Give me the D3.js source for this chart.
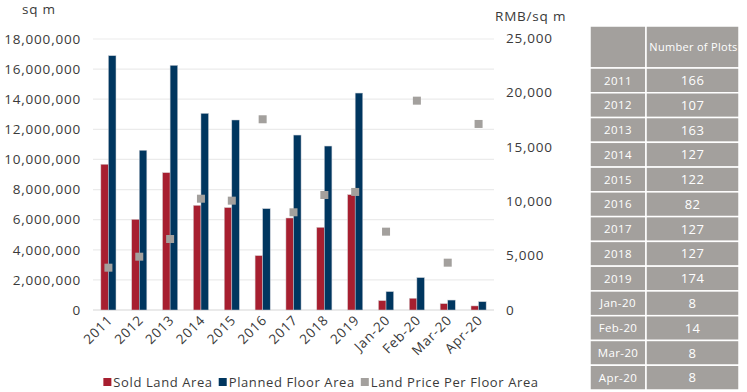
<!DOCTYPE html>
<html>
<head>
<meta charset="utf-8">
<script src="https://cdn.jsdelivr.net/npm/d3@7"></script>
<style>
  body { margin: 0; background: #fff; }
  svg text { font-family: "Open Sans", sans-serif; fill: #3a3a3a; letter-spacing: 0.8px; }
</style>
</head>
<body>
<svg id="chart" width="747" height="392"></svg>
<script>
// data
var categories = ["2011","2012","2013","2014","2015","2016","2017","2018","2019","Jan-20","Feb-20","Mar-20","Apr-20"];
var soldLand = [9680000, 6020000, 9120000, 6950000, 6800000, 3610000, 6110000, 5490000, 7660000, 620000, 780000, 420000, 270000];
var plannedFloor = [16890000, 10610000, 16250000, 13060000, 12620000, 6730000, 11620000, 10890000, 14410000, 1220000, 2150000, 660000, 550000];
var landPrice = [3890, 4900, 6525, 10230, 10050, 17530, 8980, 10570, 10850, 7200, 19240, 4350, 17100];
var plots = [166, 107, 163, 127, 122, 82, 127, 127, 174, 8, 14, 8, 8];
var leftTicks = [0, 2000000, 4000000, 6000000, 8000000, 10000000, 12000000, 14000000, 16000000, 18000000];
var rightTicks = [0, 5000, 10000, 15000, 20000, 25000];
var seriesNames = ["Sold Land Area", "Planned Floor Area", "Land Price Per Floor Area"];

var red = "#a71f30", blue = "#00365f", grey = "#a3a09d";

var svg = d3.select("#chart");
var fmt = d3.format(",");

var x = d3.scaleBand().domain(categories).range([93, 494]).paddingInner(0.51).paddingOuter(0.255);
var xSub = d3.scaleBand().domain(["sold", "planned"]).range([0, x.bandwidth()]);
var yL = d3.scaleLinear().domain([0, 18000000]).range([310, 39]);
var yR = d3.scaleLinear().domain([0, 25000]).range([310, 38]);

// gridlines
svg.append("g").selectAll("line").data(leftTicks).enter().append("line")
  .attr("x1", 93).attr("x2", 494)
  .attr("y1", function(d) { return yL(d); }).attr("y2", function(d) { return yL(d); })
  .attr("stroke", function(d) { return d === 0 ? "#d6d6d6" : "#ebebeb"; })
  .attr("stroke-width", 1.2);

// left axis
var gl = svg.append("g").attr("transform", "translate(89,0)")
  .call(d3.axisLeft(yL).tickValues(leftTicks).tickFormat(fmt).tickSize(0).tickPadding(8));
gl.select(".domain").remove();
gl.selectAll("text").style("font-size", "13.5px");

// right axis
var gr = svg.append("g").attr("transform", "translate(498,0)")
  .call(d3.axisRight(yR).tickValues(rightTicks).tickFormat(fmt).tickSize(0).tickPadding(8));
gr.select(".domain").remove();
gr.selectAll("text").style("font-size", "13.5px");

svg.append("text").attr("x", 22).attr("y", 14).style("font-size", "13.5px").text("sq m");
svg.append("text").attr("x", 495).attr("y", 21).style("font-size", "13.5px").text("RMB/sq m");

// bars
var groups = svg.append("g").selectAll("g").data(categories).enter().append("g")
  .attr("transform", function(d) { return "translate(" + x(d) + ",0)"; });

groups.append("rect")
  .attr("x", xSub("sold")).attr("width", xSub.bandwidth())
  .attr("y", function(d, i) { return yL(soldLand[i]); })
  .attr("height", function(d, i) { return yL(0) - yL(soldLand[i]); })
  .attr("fill", red).attr("stroke", "#d3c9cc").attr("stroke-width", 0.5);

groups.append("rect")
  .attr("x", xSub("planned")).attr("width", xSub.bandwidth())
  .attr("y", function(d, i) { return yL(plannedFloor[i]); })
  .attr("height", function(d, i) { return yL(0) - yL(plannedFloor[i]); })
  .attr("fill", blue).attr("stroke", "#c6ccd4").attr("stroke-width", 0.5);

// price markers
var m = 8;
groups.append("rect")
  .attr("x", x.bandwidth() / 2 - m / 2).attr("width", m)
  .attr("y", function(d, i) { return yR(landPrice[i]) - m / 2; }).attr("height", m)
  .attr("fill", grey);

// category labels
groups.append("text")
  .attr("transform", "translate(" + (x.bandwidth() / 2 + 5) + ",321) rotate(-45)")
  .attr("text-anchor", "end")
  .style("font-size", "13.5px")
  .text(function(d) { return d; });

// legend, laid out one item after another and centred under the plot
var legendCol = [red, blue, grey];
var legG = svg.append("g");
var leg = legG.selectAll("g").data(seriesNames).enter().append("g");
leg.append("rect").attr("x", 0).attr("y", -4).attr("width", 8).attr("height", 8)
  .attr("fill", function(d, i) { return legendCol[i]; });
leg.append("text").attr("x", 10).attr("dy", "0.36em").style("font-size", "13px").style("letter-spacing", "0.6px")
  .text(function(d) { return d; });
var cursor = 0;
leg.each(function() {
  var w = d3.select(this).select("text").node().getComputedTextLength();
  d3.select(this).attr("transform", "translate(" + cursor + ",0)");
  cursor += 10 + w + 6;
});
legG.attr("transform", "translate(" + (321 - (cursor - 6) / 2) + ",382)");

// table
var tx0 = 590, tx1 = 646, tx2 = 739, headTop = 26, headBot = 68;
var row = d3.scaleBand().domain(categories).range([headBot, 390]);
var tbl = svg.append("g");
tbl.append("rect").attr("x", tx0).attr("y", headTop).attr("width", tx1 - tx0).attr("height", headBot - headTop)
  .attr("fill", grey).attr("stroke", "#fff").attr("stroke-width", 1.5);
tbl.append("rect").attr("x", tx1).attr("y", headTop).attr("width", tx2 - tx1).attr("height", headBot - headTop)
  .attr("fill", grey).attr("stroke", "#fff").attr("stroke-width", 1.5);
tbl.append("text").attr("x", (tx1 + tx2) / 2 + 1).attr("y", (headTop + headBot) / 2).attr("dy", "0.36em")
  .attr("text-anchor", "middle").style("font-size", "11px").style("fill", "#fff").style("letter-spacing", "0.3px")
  .text("Number of Plots");

var rows = tbl.selectAll("g.row").data(categories).enter().append("g").attr("class", "row")
  .attr("transform", function(d) { return "translate(0," + row(d) + ")"; });
rows.append("rect").attr("x", tx0).attr("width", tx1 - tx0).attr("height", row.bandwidth())
  .attr("fill", grey).attr("stroke", "#fff").attr("stroke-width", 1.5);
rows.append("rect").attr("x", tx1).attr("width", tx2 - tx1).attr("height", row.bandwidth())
  .attr("fill", grey).attr("stroke", "#fff").attr("stroke-width", 1.5);
rows.append("text").attr("x", (tx0 + tx1) / 2).attr("y", row.bandwidth() / 2).attr("dy", "0.36em")
  .attr("text-anchor", "middle").style("font-size", "11.5px").style("fill", "#fff").style("letter-spacing", "0.4px")
  .text(function(d) { return d; });
rows.append("text").attr("x", (tx1 + tx2) / 2).attr("y", row.bandwidth() / 2).attr("dy", "0.36em")
  .attr("text-anchor", "middle").style("font-size", "13px").style("fill", "#fff").style("letter-spacing", "0.4px")
  .text(function(d, i) { return plots[i]; });
</script>
</body>
</html>
